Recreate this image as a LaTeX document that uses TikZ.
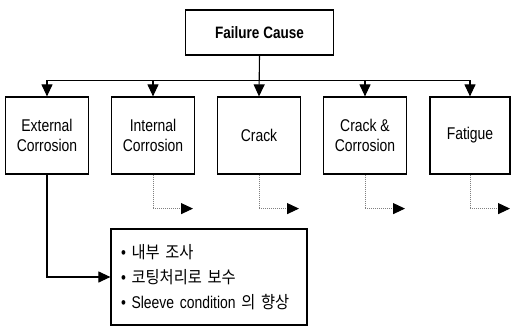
\documentclass[tikz,border=0pt]{standalone}
\usepackage{fontspec}
\setmainfont{Liberation Sans}[FakeStretch=0.82]
\newfontfamily\krfont{Noto Sans CJK KR}[FakeStretch=0.9]
\usetikzlibrary{arrows.meta}
\newcommand{\kr}[1]{{\krfont #1}}

\begin{document}
\begin{tikzpicture}[x=1pt,y=-1pt,
    box/.style={draw,line width=1.2pt,minimum width=83pt,minimum height=77pt,
      align=center,font=\fontsize{17}{20}\selectfont},
    arr/.style={line width=1.1pt,-{Triangle[length=12pt,width=11pt]}},
    dotarr/.style={gray,densely dotted,line width=1pt,-{Triangle[length=12pt,width=11pt,color=black]}}]
  \useasboundingbox (0,0) rectangle (511,327);
  %\draw[very thin,lightgray] (0,0) grid[step=50] (511,327);
  \node[box,minimum width=148pt,minimum height=45pt,font=\bfseries\fontsize{16.5}{20}\selectfont]
    (top) at (259.5,32.5) {Failure Cause};
  \node[box] (ext) at (47,135.5) {External\\Corrosion};
  \node[box] (int) at (153,135.5) {Internal\\Corrosion};
  \node[box] (crk) at (259,135.5) {Crack};
  \node[box] (crc) at (365,135.5) {Crack \&\\Corrosion};
  \node[box,minimum width=80pt] (fat) at (470,135.5) {Fatigue};
  \foreach \c in {ext,int,crc,fat}
    \draw[arr] (top.south) -- ++(0,25) -| (\c.north);
  \draw[arr] (top.south) -- (crk.north);
  \foreach \c in {int,crk,crc,fat}{
    \coordinate (\c-end) at ([xshift=40pt,yshift=-34pt]\c.south);
    \draw[dotarr] (\c.south) |- (\c-end);
  }
  \node[draw,line width=1.2pt,text width=176pt,inner xsep=10pt,minimum height=96pt,
    align=left,font=\fontsize{17}{25}\selectfont] (res) at (209,277)
    {\textbullet\ \kr{내부 조사}\\
     \textbullet\ \kr{코팅처리로 보수}\\
     \textbullet\ Sleeve condition \kr{의 향상}};
  \draw[arr] (ext.south) |- (res.west);
\end{tikzpicture}
\end{document}
